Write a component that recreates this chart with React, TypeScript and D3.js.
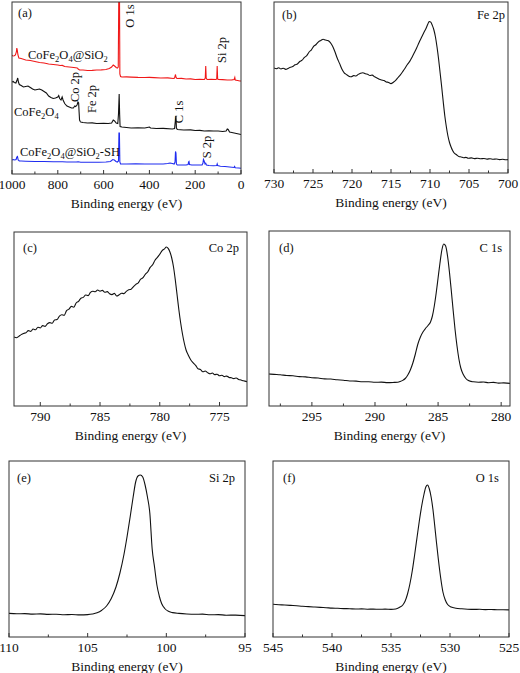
import React from "react";
import * as d3 from "d3";

type Pt = [number, number];

// ---------- (a) survey spectra ----------
const surveyTicks = [1000, 800, 600, 400, 200, 0];
const surveySiO2: Pt[] = [
  [1000, 119], [996, 118], [990, 118.2], [985, 119], [981, 122], [979, 126], [977, 124], [974, 119], [970, 116],
  [960, 115.5], [940, 114], [920, 113.5], [900, 112.5], [880, 111.5], [860, 111], [840, 110], [820, 109.5],
  [800, 109], [790, 108.5], [780, 108.6], [770, 107.5], [750, 107], [730, 106.5], [715, 106], [711, 105],
  [705, 104], [690, 104], [670, 103.5], [650, 103.6], [630, 104], [610, 104.1], [590, 104.5], [575, 105.5],
  [565, 107], [558, 109], [552, 108], [545, 106.5], [540, 106], [536, 107], [533, 200], [531, 200], [529, 100],
  [526, 97.5], [520, 97], [500, 97.1], [480, 96.9], [450, 96.6], [420, 96.5], [400, 96.6], [380, 96.4],
  [350, 96], [320, 96.1], [295, 95.5], [290, 96], [286, 99.5], [284, 97], [280, 95.5], [260, 95.6], [240, 95],
  [220, 95.1], [200, 94.5], [180, 94.6], [160, 94.5], [156, 96], [154, 108], [152, 96], [148, 94.5], [130, 94.6],
  [110, 94.5], [106, 95], [104, 108], [102, 95], [98, 94.5], [80, 94.4], [60, 94], [40, 94.1], [30, 94.5],
  [27, 96.5], [25, 94], [15, 93.5], [5, 93], [0, 93],
];
const surveyCoFe2O4: Pt[] = [
  [1000, 92], [995, 92.5], [990, 91.5], [983, 91], [978, 94], [975, 96], [972, 92], [968, 89.5], [960, 88.5],
  [950, 87], [940, 87.5], [930, 88], [920, 86.5], [910, 85], [900, 84], [890, 84.5], [880, 85], [870, 84],
  [860, 82.5], [850, 81], [840, 78], [830, 76.5], [820, 75.5], [810, 76], [800, 77], [796, 78.5], [792, 75.5],
  [786, 74], [781, 77], [777, 74], [770, 70.5], [760, 68], [750, 67], [740, 66], [732, 66], [726, 68],
  [722, 67.5], [716, 69], [712, 72], [709, 71], [707, 62], [705, 54], [702, 52.5], [700, 52], [690, 51.5],
  [670, 51], [650, 51.1], [630, 50.5], [600, 50.6], [580, 50.5], [565, 51], [558, 54], [552, 53], [545, 51],
  [538, 50.5], [535, 60], [532, 80], [530, 60], [528, 47.5], [520, 47], [500, 46.5], [480, 46], [450, 46.1],
  [420, 46], [400, 47], [395, 46], [370, 45.5], [340, 45.6], [300, 45], [290, 45.5], [286, 55], [284, 58],
  [282, 46], [278, 44.5], [250, 44], [220, 44.1], [200, 43.5], [180, 43.6], [160, 43], [140, 43.1], [120, 43],
  [100, 43], [80, 42.5], [65, 43], [60, 45], [56, 44.5], [50, 42], [40, 41.5], [30, 41], [20, 40.5], [10, 40],
  [0, 39.5],
];
const surveySH: Pt[] = [
  [1000, 14], [995, 14.5], [988, 14], [982, 14.5], [979, 17], [976, 17.5], [973, 14], [968, 13], [960, 13],
  [940, 12.8], [900, 12.5], [860, 12.5], [820, 12.3], [800, 12.2], [780, 12.3], [760, 12], [720, 12],
  [711, 12.3], [700, 11.8], [660, 11.7], [620, 11.8], [590, 12], [570, 12.5], [560, 14.5], [553, 14],
  [546, 12.5], [540, 12], [535, 13], [533, 41], [531, 41], [529, 12], [526, 10], [500, 10], [460, 10.1],
  [420, 10], [380, 10], [340, 10], [320, 10.5], [310, 11], [300, 10.5], [292, 10], [288, 12], [286, 22.5],
  [284, 21], [282, 10], [278, 9], [260, 9], [240, 9], [231, 9.5], [229, 12], [227, 12.5], [225, 9.5], [215, 9],
  [190, 9], [170, 9], [166, 11], [164, 14.5], [161, 13], [157, 10], [154, 10.8], [151, 9], [140, 8.5],
  [120, 8.3], [106, 8.5], [104, 10], [102, 8.5], [90, 7.8], [70, 7.5], [50, 7], [30, 6.5], [28, 7.5], [25, 6.3],
  [10, 6], [0, 5.8],
];

// ---------- (b) Fe 2p ----------
const fe2pTicks = [730, 725, 720, 715, 710, 705, 700];
const fe2p: Pt[] = [
  [730, 105], [729.7, 104.2], [729.4, 105.3], [729.1, 104], [728.8, 104.8], [728.5, 103.6], [728.2, 104.5],
  [727.9, 105.8], [727.6, 106.4], [727.3, 108.2], [727, 109], [726.7, 111.5], [726.4, 112.8], [726.1, 115.6],
  [725.8, 117.4], [725.5, 121], [725.2, 123.2], [724.9, 126.8], [724.6, 128.5], [724.3, 131.2], [724, 132.6],
  [723.7, 133.8], [723.4, 133], [723.1, 132.4], [722.8, 130.6], [722.5, 127], [722.2, 121.5], [721.9, 115],
  [721.6, 109.6], [721.3, 104], [721, 100.2], [720.7, 98.4], [720.4, 96.8], [720.1, 96.2], [719.8, 97.4],
  [719.5, 97], [719.2, 98.6], [718.9, 99.8], [718.6, 100.3], [718.3, 99.2], [718, 98.8], [717.7, 97.5],
  [717.4, 97.9], [717.1, 96.2], [716.8, 95.1], [716.5, 93.8], [716.2, 93], [715.9, 92.4], [715.6, 91.1],
  [715.3, 90.6], [715, 89.4], [714.7, 90.8], [714.4, 92.6], [714.1, 95.5], [713.8, 98.2], [713.5, 101.4],
  [713.2, 104.8], [712.9, 108.5], [712.6, 111.6], [712.3, 115.8], [712, 120.4], [711.7, 125.2], [711.4, 130.6],
  [711.1, 135.4], [710.8, 140.2], [710.5, 144.8], [710.3, 148.5], [710.1, 151.5], [709.9, 150.8], [709.7, 147.6],
  [709.5, 143], [709.3, 136], [709.1, 126], [708.9, 114], [708.7, 100], [708.5, 86], [708.3, 71], [708.1, 57],
  [707.9, 46], [707.7, 37], [707.5, 30.5], [707.3, 26], [707.1, 22.5], [706.9, 20], [706.6, 18.2], [706.3, 16.5],
  [706, 16], [705.7, 15.2], [705.4, 15.6], [705.1, 14.7], [704.7, 15.1], [704.3, 14.4], [703.9, 14.8],
  [703.5, 14.2], [703.1, 14.5], [702.7, 13.9], [702.3, 14.3], [701.9, 13.8], [701.5, 14], [701.1, 13.4],
  [700.7, 13.7], [700.3, 13.2], [700, 13.4],
];

// ---------- (c) Co 2p ----------
const co2pTicks = [790, 785, 780, 775];
const co2p: Pt[] = [
  [792.2, 69], [792, 68.2], [791.8, 69.6], [791.6, 71.4], [791.4, 72.6], [791.2, 73.2], [791, 75.4], [790.8, 74.6],
  [790.6, 77], [790.4, 76.2], [790.2, 78.8], [790, 78], [789.8, 80.4], [789.6, 79.6], [789.4, 82.2], [789.2, 83.4],
  [789, 82.8], [788.8, 86], [788.6, 86.4], [788.4, 89.8], [788.2, 91.2], [788, 90.6], [787.8, 95.4], [787.6, 96.8],
  [787.4, 99.6], [787.2, 98.8], [787, 103], [786.8, 104.6], [786.6, 107.8], [786.4, 108.6], [786.2, 111],
  [786, 110.4], [785.8, 113.6], [785.6, 114.8], [785.4, 114.2], [785.2, 116], [785, 114.8], [784.8, 115.6],
  [784.6, 113.8], [784.4, 114.4], [784.2, 112.2], [784, 111.4], [783.8, 112.6], [783.6, 110], [783.4, 111.2],
  [783.2, 112.8], [783, 112.4], [782.8, 114.6], [782.6, 116.2], [782.4, 116.8], [782.2, 119.4], [782, 121.6],
  [781.8, 123.2], [781.6, 126.8], [781.4, 128.4], [781.2, 131.8], [781, 134.2], [780.8, 138.6], [780.6, 141.2],
  [780.4, 145.8], [780.2, 148.6], [780, 151.8], [779.8, 155.4], [779.6, 157.2], [779.45, 159], [779.3, 157.6],
  [779.15, 154], [779, 148], [778.85, 139], [778.7, 126], [778.55, 111], [778.4, 96], [778.25, 83], [778.1, 72],
  [777.95, 63], [777.8, 56], [777.6, 50.5], [777.4, 46], [777.2, 43.2], [777, 40.6], [776.8, 37.2], [776.6, 36.6],
  [776.4, 34.2], [776.2, 35], [776, 33.4], [775.8, 32.2], [775.6, 33], [775.4, 31.4], [775.2, 31.8], [775, 30.2],
  [774.8, 30.8], [774.6, 29.4], [774.4, 29.9], [774.2, 28.6], [774, 28.2], [773.8, 27.4], [773.6, 28],
  [773.4, 26.6], [773.2, 26], [773, 25.2], [772.7, 24.4],
];

// ---------- (d) C 1s ----------
const c1sTicks = [295, 290, 285, 280];
const c1s: Pt[] = [
  [298.4, 32], [298, 31.6], [297.5, 31.2], [297, 30.5], [296.5, 30.2], [296, 29.4], [295.5, 29.1], [295, 28.3],
  [294.5, 28], [294, 27.1], [293.5, 27], [293, 26.2], [292.5, 25.8], [292, 25], [291.5, 24.9], [291, 24.2],
  [290.5, 24.3], [290, 23.7], [289.5, 23.9], [289, 23.4], [288.5, 23.6], [288.2, 23.8], [288, 24.5], [287.8, 25.6],
  [287.6, 27.5], [287.4, 31], [287.2, 36], [287, 43], [286.8, 52], [286.6, 62], [286.4, 69], [286.2, 74],
  [286, 77.5], [285.8, 80.5], [285.6, 84], [285.45, 90], [285.3, 100], [285.15, 113], [285, 128], [284.85, 143],
  [284.7, 156], [284.55, 162], [284.4, 160], [284.25, 150], [284.1, 134], [283.95, 115], [283.8, 95],
  [283.65, 76], [283.5, 60], [283.35, 47], [283.2, 38], [283, 31.5], [282.8, 27.5], [282.5, 25], [282.2, 24.2],
  [281.8, 23.8], [281.4, 24], [281, 23.3], [280.6, 23.6], [280.2, 22.9], [279.8, 23.1], [279.3, 22.6],
];

// ---------- (e) Si 2p ----------
const si2pTicks = [110, 105, 100, 95];
const si2p: Pt[] = [
  [110, 23.6], [109.5, 23.2], [109, 23.4], [108.5, 22.9], [108, 23.1], [107.5, 22.6], [107, 22.8], [106.5, 22.3],
  [106, 22.5], [105.5, 22.1], [105, 22.4], [104.7, 23], [104.4, 24.2], [104.1, 26.8], [103.8, 31], [103.5, 38.5],
  [103.2, 50], [102.95, 64], [102.7, 82], [102.5, 100], [102.3, 120], [102.1, 141], [101.95, 155], [101.8, 161],
  [101.65, 162], [101.5, 160], [101.35, 152], [101.2, 140], [101.05, 124], [100.9, 88], [100.75, 70],
  [100.6, 52], [100.45, 41], [100.3, 33.5], [100.1, 28.5], [99.9, 26], [99.6, 24.4], [99.2, 23.6], [98.7, 23],
  [98.2, 22.7], [97.7, 22.9], [97.2, 22.2], [96.7, 22.4], [96.2, 21.8], [95.6, 21.9], [95, 21.4],
];

// ---------- (f) O 1s ----------
const o1sTicks = [545, 540, 535, 530, 525];
const o1s: Pt[] = [
  [545, 32.7], [544.5, 32.3], [544, 32], [543.5, 31.6], [543, 31.2], [542.5, 30.7], [542, 30.4], [541.5, 30],
  [541, 29.6], [540.5, 29.3], [540, 28.9], [539.5, 28.7], [539, 28.4], [538.5, 28.3], [538, 28], [537.5, 28.1],
  [537, 27.8], [536.5, 27.9], [536, 27.7], [535.5, 27.9], [535, 27.6], [534.6, 28], [534.3, 29.5], [534, 32],
  [533.8, 36], [533.6, 43], [533.4, 53], [533.2, 66], [533, 82], [532.8, 99], [532.6, 116], [532.4, 131],
  [532.2, 143], [532.05, 150], [531.9, 152], [531.75, 148], [531.6, 140], [531.45, 128], [531.3, 112],
  [531.15, 95], [531, 79], [530.8, 60], [530.6, 45], [530.4, 37], [530.2, 32.5], [529.9, 30], [529.5, 28.8],
  [529, 28.2], [528.5, 27.8], [528, 27.6], [527.5, 27.7], [527, 27.4], [526.5, 27.5], [526, 27.2], [525.5, 27.3],
  [525, 27.1],
];

const FONT = "Liberation Serif, Times New Roman, Times, DejaVu Serif, serif";

type Box = { l: number; r: number; t: number; b: number };
type Series = { data: Pt[]; color: string; smooth: boolean };

const txt = (size: number): React.CSSProperties => ({ fontFamily: FONT, fontSize: size });

function Panel(props: {
  id: string;
  box: Box;
  xDomain: [number, number];
  yMax: number;
  ticks: number[];
  series: Series[];
  tag: string;
  tagPos: [number, number];
  title?: string;
  titlePos?: [number, number];
}) {
  const { id, box, xDomain, yMax, ticks, series, tag, tagPos, title, titlePos } = props;
  const x = d3.scaleLinear().domain(xDomain).range([box.l, box.r]);
  const y = d3.scaleLinear().domain([0, yMax]).range([box.b, box.t]);
  const step = Math.abs(ticks[1] - ticks[0]);
  const lo = Math.min(...xDomain);
  const hi = Math.max(...xDomain);
  const minor: number[] = [];
  for (let v = Math.min(...ticks) - step / 2; v <= hi + 1e-9; v += step) {
    if (v >= lo - 1e-9 && v <= hi + 1e-9) minor.push(v);
  }
  return (
    <g>
      <defs>
        <clipPath id={`clip-${id}`}>
          <rect x={box.l} y={box.t} width={box.r - box.l} height={box.b - box.t} />
        </clipPath>
      </defs>
      <g clipPath={`url(#clip-${id})`}>
        {series.map((s, i) => {
          const sorted = [...s.data].sort((a, b) => a[0] - b[0]);
          const line = d3
            .line<Pt>()
            .x((d) => x(d[0]))
            .y((d) => y(d[1]))
            .curve(s.smooth ? d3.curveMonotoneX : d3.curveLinear);
          return <path key={i} d={line(sorted) || ""} fill="none" stroke={s.color} strokeWidth={1.1} />;
        })}
      </g>
      <rect x={box.l} y={box.t} width={box.r - box.l} height={box.b - box.t} fill="none" stroke="#333" strokeWidth={1} />
      {ticks.map((t) => (
        <g key={`t${t}`}>
          <line x1={x(t)} x2={x(t)} y1={box.b} y2={box.b - 4} stroke="#333" strokeWidth={1} />
          <text x={x(t)} y={box.b + 14.5} textAnchor="middle" style={txt(13.5)} fill="#111">
            {t}
          </text>
        </g>
      ))}
      {minor.map((t) => (
        <line key={`m${t}`} x1={x(t)} x2={x(t)} y1={box.b} y2={box.b - 2.5} stroke="#333" strokeWidth={1} />
      ))}
      <text x={(box.l + box.r) / 2} y={box.b + 33.5} textAnchor="middle" style={txt(13.5)} fill="#111">
        Binding energy (eV)
      </text>
      <text x={tagPos[0]} y={tagPos[1]} style={txt(12.5)} fill="#111" dominantBaseline="central">
        {tag}
      </text>
      {title && titlePos && (
        <text x={titlePos[0]} y={titlePos[1]} textAnchor="end" style={txt(12.5)} fill="#111" dominantBaseline="central">
          {title}
        </text>
      )}
    </g>
  );
}

function Rot({ x, y, text }: { x: number; y: number; text: string }) {
  return (
    <text
      transform={`translate(${x},${y}) rotate(-90)`}
      textAnchor="middle"
      dominantBaseline="central"
      style={txt(12.5)}
      fill="#111"
    >
      {text}
    </text>
  );
}

function Formula({ x, y, parts }: { x: number; y: number; parts: [string, boolean][] }) {
  return (
    <text x={x} y={y} style={txt(12.5)} fill="#111">
      {parts.map(([s, sub], i) =>
        sub ? (
          <tspan key={i} style={{ fontSize: 8.5 }} dy={3}>
            {s}
          </tspan>
        ) : (
          <tspan key={i} dy={i > 0 && parts[i - 1][1] ? -3 : 0}>
            {s}
          </tspan>
        )
      )}
    </text>
  );
}

export default function App() {
  return (
    <svg
      width={520}
      height={673}
      style={{ position: "absolute", left: 0, top: 0, background: "#fff" }}
      xmlns="http://www.w3.org/2000/svg"
    >
      <rect x={0} y={0} width={520} height={673} fill="#fff" />
      <Panel
        id="a"
        box={{ l: 12, r: 241, t: 2, b: 174 }}
        xDomain={[1000, 0]}
        yMax={172}
        ticks={surveyTicks}
        series={[
          { data: surveySiO2, color: "#f01818", smooth: false },
          { data: surveyCoFe2O4, color: "#111", smooth: false },
          { data: surveySH, color: "#1f2cf0", smooth: false },
        ]}
        tag="(a)"
        tagPos={[18, 13]}
      />
      <Rot x={130} y={16} text="O 1s" />
      <Rot x={222} y={50} text="Si 2p" />
      <Rot x={75} y={87} text="Co 2p" />
      <Rot x={92} y={99} text="Fe 2p" />
      <Rot x={179} y={112} text="C 1s" />
      <Rot x={207} y={147} text="S 2p" />
      <Formula
        x={28}
        y={59}
        parts={[["CoFe", false], ["2", true], ["O", false], ["4", true], ["@SiO", false], ["2", true]]}
      />
      <Formula x={14} y={116} parts={[["CoFe", false], ["2", true], ["O", false], ["4", true]]} />
      <Formula
        x={20}
        y={156}
        parts={[["CoFe", false], ["2", true], ["O", false], ["4", true], ["@SiO", false], ["2", true], ["-SH", false]]}
      />

      <Panel
        id="b"
        box={{ l: 274, r: 508, t: 2, b: 173 }}
        xDomain={[730, 700]}
        yMax={171}
        ticks={fe2pTicks}
        series={[{ data: fe2p, color: "#111", smooth: true }]}
        tag="(b)"
        tagPos={[282, 15]}
        title="Fe 2p"
        titlePos={[505, 15]}
      />
      <Panel
        id="c"
        box={{ l: 14, r: 247, t: 232, b: 406 }}
        xDomain={[792.2, 772.7]}
        yMax={174}
        ticks={co2pTicks}
        series={[{ data: co2p, color: "#111", smooth: true }]}
        tag="(c)"
        tagPos={[23, 248]}
        title="Co 2p"
        titlePos={[239, 248]}
      />
      <Panel
        id="d"
        box={{ l: 269, r: 510, t: 231, b: 406 }}
        xDomain={[298.4, 279.3]}
        yMax={175}
        ticks={c1sTicks}
        series={[{ data: c1s, color: "#111", smooth: true }]}
        tag="(d)"
        tagPos={[279, 248]}
        title="C 1s"
        titlePos={[502, 248]}
      />
      <Panel
        id="e"
        box={{ l: 9, r: 245, t: 461, b: 637 }}
        xDomain={[110, 95]}
        yMax={176}
        ticks={si2pTicks}
        series={[{ data: si2p, color: "#111", smooth: true }]}
        tag="(e)"
        tagPos={[17, 478]}
        title="Si 2p"
        titlePos={[235, 478]}
      />
      <Panel
        id="f"
        box={{ l: 273, r: 509, t: 461, b: 637 }}
        xDomain={[545, 525]}
        yMax={176}
        ticks={o1sTicks}
        series={[{ data: o1s, color: "#111", smooth: true }]}
        tag="(f)"
        tagPos={[283, 478]}
        title="O 1s"
        titlePos={[499, 478]}
      />
    </svg>
  );
}
